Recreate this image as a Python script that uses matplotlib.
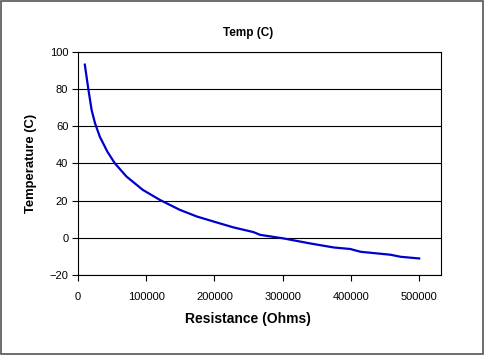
import matplotlib
matplotlib.use('Agg')
import matplotlib.pyplot as plt
from matplotlib.patches import Rectangle

plt.rcParams['font.family'] = ['Liberation Sans', 'DejaVu Sans']

# Thermistor curve
resistance = [10000, 15000, 20000, 25000, 32000, 43000, 54000, 71000, 95000,
              120000, 149000, 174000, 203000, 228000, 257000, 267000, 301000,
              340000, 375000, 399000, 414000, 458000, 473000, 500000]
temperature = [93.2, 80.4, 68.7, 61.6, 54.4, 46.4, 40.1, 33.0, 25.8,
               20.4, 15.1, 11.5, 8.3, 5.6, 3.1, 1.6, -0.3,
               -3.0, -5.2, -6.0, -7.5, -9.1, -10.2, -11.1]

W, H = 484, 355
fig = plt.figure(figsize=(W / 100, H / 100), dpi=100)
ax = fig.add_axes([78 / W, 1 - 275 / H, 363 / W, 223 / H])

ax.plot(resistance, temperature, color='#0000CC', linewidth=1.6)

ax.set_xlim(0, 532000)
ax.set_ylim(-20, 100)
ax.set_xticks([0, 100000, 200000, 300000, 400000, 500000])
ax.set_xticklabels(['0', '100000', '200000', '300000', '400000', '500000'])
ax.set_yticks([-20, 0, 20, 40, 60, 80, 100])
ax.yaxis.grid(True, color='black', linewidth=0.8)
ax.set_axisbelow(True)
for s in ax.spines.values():
    s.set_linewidth(0.8)
ax.tick_params(labelsize=8, length=4, width=0.8, direction='out')
ax.tick_params(axis='x', pad=8)
ax.tick_params(axis='y', pad=3)

# titles placed like the original (centred on the chart, not the plot area)
fig.text(248 / W, 1 - 33 / H, 'Temp (C)', fontsize=8.5, fontweight='bold',
         ha='center', va='center')
fig.text(248 / W, 1 - 319 / H, 'Resistance (Ohms)', fontsize=10, fontweight='bold',
         ha='center', va='center')
fig.text(31 / W, 1 - 163 / H, 'Temperature (C)', fontsize=9.4, fontweight='bold',
         ha='center', va='center', rotation=90)

# border around the whole chart
fig.patches.append(Rectangle((0.002, 0.003), 0.995, 0.994, transform=fig.transFigure,
                             fill=False, edgecolor='#555555', linewidth=1.2))

fig.savefig('out.png', dpi=100)
